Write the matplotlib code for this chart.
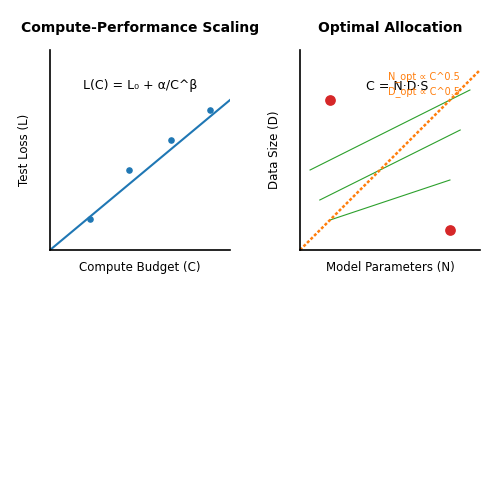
import matplotlib
matplotlib.use('Agg')
import matplotlib.pyplot as plt

# Daten links
loss_x = [2.2, 4.4, 6.7, 8.9]
loss_y = [1.55, 4.0, 5.5, 7.0]
fit_x = [0, 10]
fit_y = [0, 7.5]

# Daten rechts
red_x = [1.67, 8.33]
red_y = [7.5, 1.0]
opt_x = [0, 10]
opt_y = [0, 9]
iso_lines = [([0.56, 9.44], [4.0, 8.0]),
             ([1.1, 8.9], [2.5, 6.0]),
             ([1.67, 8.33], [1.5, 3.5])]

fig = plt.figure(figsize=(5, 5), dpi=100)
ax1 = fig.add_axes([0.10, 0.50, 0.36, 0.40])
ax2 = fig.add_axes([0.60, 0.50, 0.36, 0.40])

for ax in (ax1, ax2):
    ax.set_xlim(0, 10)
    ax.set_ylim(0, 10)
    ax.set_xticks([])
    ax.set_yticks([])
    ax.spines['top'].set_visible(False)
    ax.spines['right'].set_visible(False)
    ax.spines['left'].set_linewidth(1.2)
    ax.spines['bottom'].set_linewidth(1.2)

ax1.plot(fit_x, fit_y, color='#1f77b4', lw=1.5)
ax1.scatter(loss_x, loss_y, color='#1f77b4', s=14, zorder=3)
ax1.text(5, 8.2, 'L(C) = L₀ + α/C^β', ha='center', va='center', fontsize=9)
ax1.set_title('Compute-Performance Scaling', fontsize=10, fontweight='bold', pad=13)
ax1.set_xlabel('Compute Budget (C)', fontsize=8.5, labelpad=8)
ax1.set_ylabel('Test Loss (L)', fontsize=8.5, labelpad=14)

for xs, ys in iso_lines:
    ax2.plot(xs, ys, color='#2ca02c', lw=0.8)
ax2.plot(opt_x, opt_y, color='#ff7f0e', lw=1.8, ls=(0, (1.2, 0.8)), clip_on=False)
ax2.scatter(red_x, red_y, color='#d62728', s=45, zorder=3)
ax2.text(5.4, 8.2, 'C = N·D·S', ha='center', va='center', fontsize=9)
ax2.text(6.9, 8.65, 'N_opt ∝ C^0.5', ha='center', va='center', fontsize=7, color='#ff7f0e')
ax2.text(6.9, 7.9, 'D_opt ∝ C^0.5', ha='center', va='center', fontsize=7, color='#ff7f0e')
ax2.set_title('Optimal Allocation', fontsize=10, fontweight='bold', pad=13)
ax2.set_xlabel('Model Parameters (N)', fontsize=8.5, labelpad=8)
ax2.set_ylabel('Data Size (D)', fontsize=8.5, labelpad=14)

fig.savefig('out.png', dpi=100)
